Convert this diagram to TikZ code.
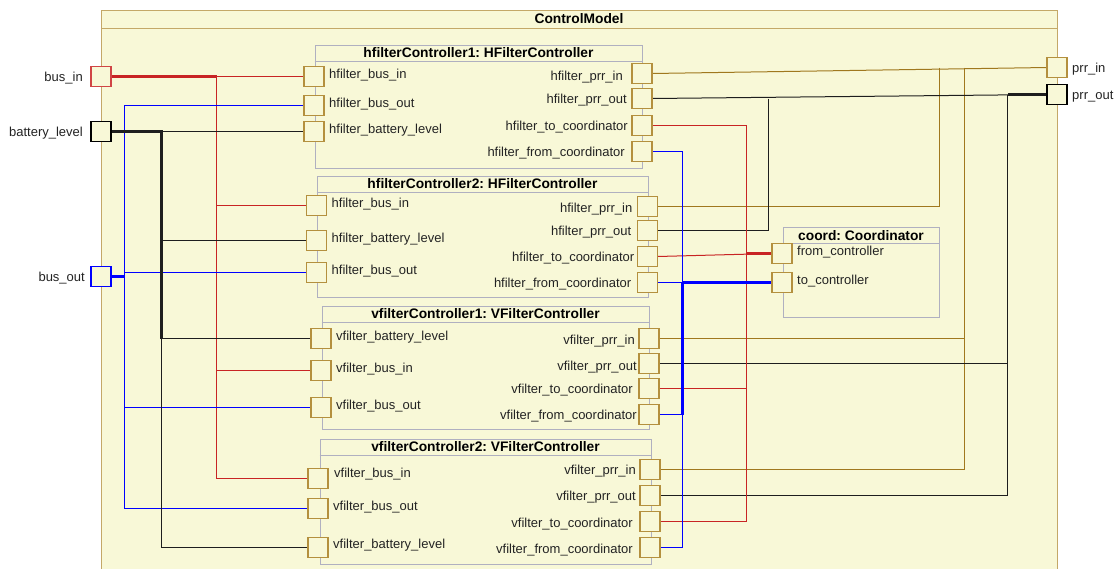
\documentclass[tikz,border=0pt]{standalone}
\usepackage{fontspec}
\setmainfont{Liberation Sans}
\usetikzlibrary{calc}
\definecolor{fillc}{RGB}{248,248,215}
\definecolor{framec}{RGB}{196,168,104}
\definecolor{compc}{RGB}{176,176,192}
\definecolor{portc}{RGB}{180,144,62}
\definecolor{wred}{RGB}{200,36,36}
\definecolor{wtan}{RGB}{160,120,30}
\definecolor{wblue}{RGB}{0,0,255}
\definecolor{wblack}{RGB}{30,30,30}
\definecolor{txt}{RGB}{35,35,35}
\pgfdeclarelayer{bg}
\pgfdeclarelayer{wires}
\pgfsetlayers{bg,wires,main}
\frenchspacing
\begin{document}
\begin{tikzpicture}[x=1pt,y=-1pt,
  lbl/.style={font=\fontsize{13}{15}\selectfont, text=txt, inner sep=0pt, text height=13.4pt, text depth=2.6pt},
  ttl/.style={font=\fontsize{13.8}{16}\selectfont\bfseries, text=black, inner sep=0pt},
  port/.style={draw=portc, fill=fillc, line width=1.2pt, minimum size=20pt, inner sep=0pt, outer sep=0pt},
  compbox/.style={draw=compc, fill=fillc, line width=1pt, inner sep=0pt, anchor=north west},
  wire/.style={line width=1pt},
  fat/.style={line width=2.2pt},
  redw/.style={wire, draw=wred},
  bluew/.style={wire, draw=wblue},
  blackw/.style={wire, draw=wblack},
  tanw/.style={wire, draw=wtan},
  llab/.style={lbl, anchor=west},
  rlab/.style={lbl, anchor=east}
]
\useasboundingbox (0,0) rectangle (1119,568);

\begin{pgfonlayer}{bg}
\fill[white] (0,0) rectangle (1119,568);
% frame
\node[draw=framec, fill=fillc, line width=1.2pt, minimum width=956pt, minimum height=570pt, anchor=north west, inner sep=0pt] (cm) at (101,10) {};
\draw[framec, line width=1pt] ($(cm.north west)+(0,18.5)$) -- ($(cm.north east)+(0,18.5)$);
% component boxes
\node[compbox, minimum width=327pt, minimum height=123pt] (h1) at (314.5,44.5) {};
\node[compbox, minimum width=331pt, minimum height=121pt] (h2) at (316.5,175.5) {};
\node[compbox, minimum width=327pt, minimum height=123pt] (v1) at (321.5,305.5) {};
\node[compbox, minimum width=331pt, minimum height=125pt] (v2) at (319.5,438.5) {};
\node[compbox, minimum width=156pt, minimum height=90pt] (co) at (782.5,226.5) {};
\foreach \b in {h1,h2,v1,v2,co}{
  \draw[compc, line width=1pt] ($(\b.north west)+(0,17)$) -- ($(\b.north east)+(0,17)$);
}
\end{pgfonlayer}

\node[ttl] (cmT) at (579,19) {ControlModel};
\node[ttl] (h1T) at ($(h1.north)+(0,8.5)$) {hfilterController1: HFilterController};
\node[ttl] (h2T) at ($(h2.north)+(0,8.5)$) {hfilterController2: HFilterController};
\node[ttl] (v1T) at ($(v1.north)+(0,8.5)$) {vfilterController1: VFilterController};
\node[ttl] (v2T) at ($(v2.north)+(0,8.5)$) {vfilterController2: VFilterController};
\node[ttl] (coT) at ($(co.north)+(0,9)$) {coord: Coordinator};

% trunk coordinates
\coordinate (tBI) at (216.5,0);
\coordinate (tBO) at (124.5,0);
\coordinate (tBL) at (161.5,0);
\coordinate (tPA) at (939.5,0);
\coordinate (tPB) at (964.5,0);
\coordinate (tQA) at (768.5,0);
\coordinate (tQB) at (1007.5,0);
\coordinate (tTC) at (746.5,0);
\coordinate (tFC) at (682.5,0);

% ports
\path
  (101,76.5) node[port, draw=wred!85] (busin) {}
  (101,131.5) node[port, draw=black] (batt) {}
  (101,276.5) node[port, draw=wblue] (busout) {}
  (1057,67.5) node[port] (prrin) {}
  (1057,94.5) node[port, draw=black] (prrout) {}
  (314,76.5) node[port] (h1bi) {}
  (314,105.5) node[port] (h1bo) {}
  (314,131.5) node[port] (h1bl) {}
  (642,73.5) node[port] (h1pi) {}
  (642,98.5) node[port] (h1po) {}
  (642,125.5) node[port] (h1tc) {}
  (642,151.5) node[port] (h1fc) {}
  (316.5,205.5) node[port] (h2bi) {}
  (316.5,240.5) node[port] (h2bl) {}
  (316.5,272.5) node[port] (h2bo) {}
  (647.5,206.5) node[port] (h2pi) {}
  (647.5,230.5) node[port] (h2po) {}
  (647.5,256.5) node[port] (h2tc) {}
  (647.5,282.5) node[port] (h2fc) {}
  (321,338.5) node[port] (v1bl) {}
  (321,370.5) node[port] (v1bi) {}
  (321,407.5) node[port] (v1bo) {}
  (649,338.5) node[port] (v1pi) {}
  (649,363.5) node[port] (v1po) {}
  (649,388.5) node[port] (v1tc) {}
  (649,414.5) node[port] (v1fc) {}
  (318,478.5) node[port] (v2bi) {}
  (318,508.5) node[port] (v2bo) {}
  (318,547.5) node[port] (v2bl) {}
  (650,469.5) node[port] (v2pi) {}
  (650,495.5) node[port] (v2po) {}
  (650,521.5) node[port] (v2tc) {}
  (650,547.5) node[port] (v2fc) {}
  (782,253.5) node[port] (cfc) {}
  (782,282.5) node[port] (ctc) {};

\begin{pgfonlayer}{wires}
% bus_in (red)
\draw[redw] (busin.east) -- (h1bi.west);
\draw[redw, fat] (busin.east) -- (tBI |- busin);
\draw[redw] (tBI |- busin) -- (tBI |- v2bi) -- (v2bi.west);
\draw[redw] (tBI |- h2bi) -- (h2bi.west);
\draw[redw] (tBI |- v1bi) -- (v1bi.west);
% bus_out (blue)
\draw[bluew, fat] (busout.east) -- (tBO |- busout);
\draw[bluew] (h1bo.west) -- (tBO |- h1bo) -- (tBO |- v2bo) -- (v2bo.west);
\draw[bluew] (tBO |- h2bo) -- (h2bo.west);
\draw[bluew] (tBO |- v1bo) -- (v1bo.west);
% battery_level (black)
\draw[blackw] (batt.east) -- (h1bl.west);
\draw[blackw, fat] (batt.east) -- (tBL |- batt) -- (tBL |- v1bl);
\draw[blackw] (tBL |- batt) -- (tBL |- v2bl) -- (v2bl.west);
\draw[blackw] (tBL |- h2bl) -- (h2bl.west);
\draw[blackw] (tBL |- v1bl) -- (v1bl.west);
% prr_in (tan)
\draw[tanw] (h1pi.east) -- (prrin.west);
\draw[tanw] (tPA |- prrin) -- (tPA |- h2pi) -- (h2pi.east);
\draw[tanw] (tPB |- prrin) -- (tPB |- v2pi) -- (v2pi.east);
\draw[tanw] (tPB |- v1pi) -- (v1pi.east);
% prr_out (black)
\draw[blackw] (h1po.east) -- (prrout.west);
\draw[blackw, fat] (prrout.west) -- (tQB |- prrout);
\draw[blackw] (tQA |- h1po) -- (tQA |- h2po) -- (h2po.east);
\draw[blackw] (tQB |- prrout) -- (tQB |- v2po) -- (v2po.east);
\draw[blackw] (tQB |- v1po) -- (v1po.east);
% to_coordinator (red)
\draw[redw] (h1tc.east) -- (tTC |- h1tc);
\draw[redw] (tTC |- h1tc) -- (tTC |- v2tc);
\draw[redw] (tTC |- v2tc) -- (v2tc.east);
\draw[redw] (h2tc.east) -- (cfc.west);
\draw[redw, fat] (tTC |- cfc) -- (cfc.west);
\draw[redw] (tTC |- v1tc) -- (v1tc.east);
% from_coordinator (blue)
\draw[bluew] (h1fc.east) -- (tFC |- h1fc) -- (tFC |- v2fc) -- (v2fc.east);
\draw[bluew] (h2fc.east) -- (ctc.west);
\draw[bluew, fat] (tFC |- ctc) -- (ctc.west);
\draw[bluew, fat] (tFC |- ctc) -- (tFC |- v1fc);
\draw[bluew] (tFC |- v1fc) -- (v1fc.east);
\end{pgfonlayer}

% outer labels
\node[rlab] (lBI) at ([xshift=-8pt]busin.west) {bus\_in};
\node[rlab] (lBL) at ([xshift=-8pt]batt.west) {battery\_level};
\node[rlab] (lBO) at ([xshift=-6pt]busout.west) {bus\_out};
\node[llab] (lPI) at ([xshift=5pt]prrin.east) {prr\_in};
\node[llab] (lPO) at ([xshift=5pt]prrout.east) {prr\_out};

% h1 labels
\node[llab] at ([xshift=5pt,yshift=3pt]h1bi.east) {hfilter\_bus\_in};
\node[llab] at ([xshift=5pt,yshift=3pt]h1bo.east) {hfilter\_bus\_out};
\node[llab] at ([xshift=5pt,yshift=3pt]h1bl.east) {hfilter\_battery\_level};
\node[rlab] at ([xshift=-9pt,yshift=-2pt]h1pi.west) {hfilter\_prr\_in};
\node[rlab] at ([xshift=-5pt]h1po.west) {hfilter\_prr\_out};
\node[rlab] at ([xshift=-4pt]h1tc.west) {hfilter\_to\_coordinator};
\node[rlab] at ([xshift=-7pt]h1fc.west) {hfilter\_from\_coordinator};

% h2 labels
\node[llab] at ([xshift=5pt,yshift=3pt]h2bi.east) {hfilter\_bus\_in};
\node[llab] at ([xshift=5pt,yshift=3pt]h2bl.east) {hfilter\_battery\_level};
\node[llab] at ([xshift=5pt,yshift=3pt]h2bo.east) {hfilter\_bus\_out};
\node[rlab] at ([xshift=-5pt,yshift=-1pt]h2pi.west) {hfilter\_prr\_in};
\node[rlab] at ([xshift=-6pt]h2po.west) {hfilter\_prr\_out};
\node[rlab] at ([xshift=-3pt]h2tc.west) {hfilter\_to\_coordinator};
\node[rlab] at ([xshift=-6pt]h2fc.west) {hfilter\_from\_coordinator};

% v1 labels
\node[llab] at ([xshift=5pt,yshift=3pt]v1bl.east) {vfilter\_battery\_level};
\node[llab] at ([xshift=5pt,yshift=3pt]v1bi.east) {vfilter\_bus\_in};
\node[llab] at ([xshift=5pt,yshift=3pt]v1bo.east) {vfilter\_bus\_out};
\node[rlab] at ([xshift=-4pt,yshift=-1pt]v1pi.west) {vfilter\_prr\_in};
\node[rlab] at ([xshift=-2pt,yshift=-2pt]v1po.west) {vfilter\_prr\_out};
\node[rlab] at ([xshift=-6pt]v1tc.west) {vfilter\_to\_coordinator};
\node[rlab] at ([xshift=-2pt]v1fc.west) {vfilter\_from\_coordinator};

% v2 labels
\node[llab] at ([xshift=6pt,yshift=6pt]v2bi.east) {vfilter\_bus\_in};
\node[llab] at ([xshift=5pt,yshift=3pt]v2bo.east) {vfilter\_bus\_out};
\node[llab] at ([xshift=5pt,yshift=4pt]v2bl.east) {vfilter\_battery\_level};
\node[rlab] at ([xshift=-4pt]v2pi.west) {vfilter\_prr\_in};
\node[rlab] at ([xshift=-4pt]v2po.west) {vfilter\_prr\_out};
\node[rlab] at ([xshift=-7pt,yshift=-1pt]v2tc.west) {vfilter\_to\_coordinator};
\node[rlab] at ([xshift=-7pt,yshift=-1pt]v2fc.west) {vfilter\_from\_coordinator};

% coordinator labels
\node[llab] at ([xshift=5pt,yshift=3pt]cfc.east) {from\_controller};
\node[llab] at ([xshift=5pt,yshift=3pt]ctc.east) {to\_controller};
\end{tikzpicture}
\end{document}
